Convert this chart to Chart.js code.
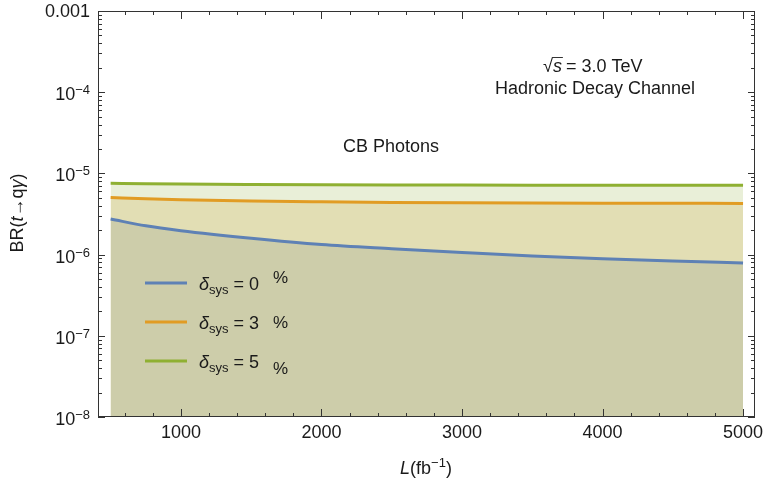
<!DOCTYPE html>
<html>
<head>
<meta charset="utf-8">
<script src="https://cdn.jsdelivr.net/npm/chart.js@4/dist/chart.umd.min.js"></script>
<style>
  html, body { margin: 0; padding: 0; background: #fff; }
  canvas { display: block; }
</style>
</head>
<body>
<canvas id="brChart" width="763" height="488"></canvas>
<script>
/* BR(t -> q gamma) reach vs luminosity, CB photons */
const LUMI = [500, 750, 1000, 1500, 2000, 2500, 3000, 3500, 4000, 4500, 5000];
const BR_SYS0 = [2.74e-6, 2.26e-6, 1.97e-6, 1.59e-6, 1.33e-6, 1.18e-6, 1.06e-6, 0.96e-6, 0.89e-6, 0.835e-6, 0.79e-6];
const BR_SYS3 = [5.05e-6, 4.88e-6, 4.74e-6, 4.56e-6, 4.46e-6, 4.39e-6, 4.34e-6, 4.31e-6, 4.29e-6, 4.28e-6, 4.27e-6];
const BR_SYS5 = [7.55e-6, 7.46e-6, 7.40e-6, 7.32e-6, 7.26e-6, 7.22e-6, 7.19e-6, 7.17e-6, 7.15e-6, 7.14e-6, 7.13e-6];
const SYS = [0, 3, 5];
const X_TICKS = [1000, 2000, 3000, 4000, 5000];
const Y_DECADES = [-8, -7, -6, -5, -4, -3];

const FAM = '"Liberation Sans", Arial, sans-serif';
const font = (size, style) => `${style || ''} ${size}px ${FAM}`;
const LINE_COLORS = ['#5e81b5', '#e19c24', '#8fb032'];
const FILL_COLORS = ['#cdcdaa', '#e2deb4', '#e9efd8'];

function pts(ys) { return LUMI.map((x, i) => ({ x, y: ys[i] })); }

// draw a list of text pieces on one baseline: [text, font, dy]
function runs(ctx, x, y, parts, align) {
  let w = 0;
  parts.forEach((p) => { ctx.font = p[1]; p.w = ctx.measureText(p[0]).width; w += p.w; });
  let cx = align === 'center' ? x - w / 2 : align === 'right' ? x - w : x;
  ctx.textAlign = 'left';
  parts.forEach((p) => { ctx.font = p[1]; ctx.fillText(p[0], cx, y + (p[2] || 0)); cx += p.w; });
  return cx;
}

const decor = {
  id: 'decor',
  afterDraw(chart) {
    const { ctx, chartArea: a, scales: { x, y } } = chart;
    ctx.save();
    ctx.textBaseline = 'alphabetic';

    // frame
    ctx.strokeStyle = '#333';
    ctx.lineWidth = 1;
    ctx.strokeRect(Math.round(a.left) + 0.5, Math.round(a.top) + 0.5, Math.round(a.right - a.left) - 1, Math.round(a.bottom - a.top) - 1);

    // x ticks (inward, mirrored on top)
    ctx.beginPath();
    for (let v = 600; v <= 5000; v += 200) {
      const px = Math.round(x.getPixelForValue(v)) + 0.5;
      const len = v % 1000 === 0 ? 8 : 4;
      ctx.moveTo(px, a.bottom); ctx.lineTo(px, a.bottom - len);
      ctx.moveTo(px, a.top); ctx.lineTo(px, a.top + len);
    }
    // y ticks
    Y_DECADES.forEach((d) => {
      const kmax = d === -3 ? 1 : 9;
      for (let k = 1; k <= kmax; k++) {
        const py = Math.round(y.getPixelForValue(k * Math.pow(10, d))) + 0.5;
        const len = k === 1 ? 7 : 4;
        ctx.moveTo(a.left, py); ctx.lineTo(a.left + len, py);
        ctx.moveTo(a.right, py); ctx.lineTo(a.right - len, py);
      }
    });
    ctx.stroke();

    // tick labels
    ctx.fillStyle = '#1a1a1a';
    ctx.font = font(18);
    ctx.textAlign = 'center';
    X_TICKS.forEach((v) => ctx.fillText(String(v), x.getPixelForValue(v), 438));
    Y_DECADES.forEach((d) => {
      const py = y.getPixelForValue(Math.pow(10, d));
      if (d === -3) runs(ctx, 90, py + 6, [['0.001', font(18)]], 'right');
      else runs(ctx, 90, py + 8, [['10', font(18)], ['\u2212' + (-d), font(13), -6]], 'right');
    });

    // axis titles
    runs(ctx, 426, 474, [['L', font(18, 'italic')], ['(fb', font(18)], ['\u22121', font(13), -7], [')', font(18)]], 'center');
    ctx.save();
    ctx.translate(23, 213);
    ctx.rotate(-Math.PI / 2);
    runs(ctx, 0, 0, [['BR(', font(18)], ['t', font(18, 'italic')], ['\u2192q', font(18)], ['\u03b3', font(18, 'italic')], [')', font(18)]], 'center');
    ctx.restore();

    // annotations
    runs(ctx, 391, 152, [['CB Photons', font(18)]], 'center');
    ctx.font = font(18);
    const rootW = ctx.measureText('\u221a').width;
    const sx = runs(ctx, 543, 72, [['\u221a', font(18)]], 'left');
    const ex = runs(ctx, sx, 72, [['s', font(18, 'italic')]], 'left');
    ctx.beginPath();
    ctx.lineWidth = 1;
    ctx.moveTo(543 + rootW - 1, 57.5); ctx.lineTo(ex + 1, 57.5);
    ctx.stroke();
    runs(ctx, ex + 4, 72, [['= 3.0 TeV', font(18)]], 'left');
    runs(ctx, 595, 94, [['Hadronic Decay Channel', font(18)]], 'center');

    // legend
    const PCT_SHIFT = [-7, -1, 6];
    chart.data.datasets.forEach((ds, i) => {
      const ly = 283 + 39 * i;
      ctx.strokeStyle = ds.borderColor;
      ctx.lineWidth = 3;
      ctx.beginPath(); ctx.moveTo(145, ly); ctx.lineTo(187, ly); ctx.stroke();
      ctx.fillStyle = '#1a1a1a';
      runs(ctx, 199, ly + 7, [['\u03b4', font(18, 'italic')], ['sys', font(13), 4], [' = ' + SYS[i], font(18)]], 'left');
      runs(ctx, 273, ly + 7 + PCT_SHIFT[i], [['%', font(17)]], 'left');
    });
    ctx.restore();
  },
};

new Chart(document.getElementById('brChart'), {
  type: 'line',
  data: {
    datasets: [BR_SYS0, BR_SYS3, BR_SYS5].map((ys, i) => ({
      label: '\u03b4sys = ' + SYS[i] + ' %',
      data: pts(ys),
      borderColor: LINE_COLORS[i],
      backgroundColor: FILL_COLORS[i],
      borderWidth: 3,
      pointRadius: 0,
      cubicInterpolationMode: 'monotone',
      fill: 'start',
    })),
  },
  options: {
    responsive: false,
    animation: false,
    devicePixelRatio: 1,
    events: [],
    layout: { padding: { top: 11, right: 8, left: 0, bottom: 0 } },
    plugins: { legend: { display: false }, tooltip: { enabled: false } },
    scales: {
      x: {
        type: 'linear', min: 410, max: 5085,
        ticks: { display: false }, grid: { display: false }, border: { display: false },
        afterFit: (s) => { s.height = 71; },
      },
      y: {
        type: 'logarithmic', min: 1e-8, max: 1e-3,
        ticks: { display: false }, grid: { display: false }, border: { display: false },
        afterFit: (s) => { s.width = 98; },
      },
    },
  },
  plugins: [decor],
});
</script>
</body>
</html>
